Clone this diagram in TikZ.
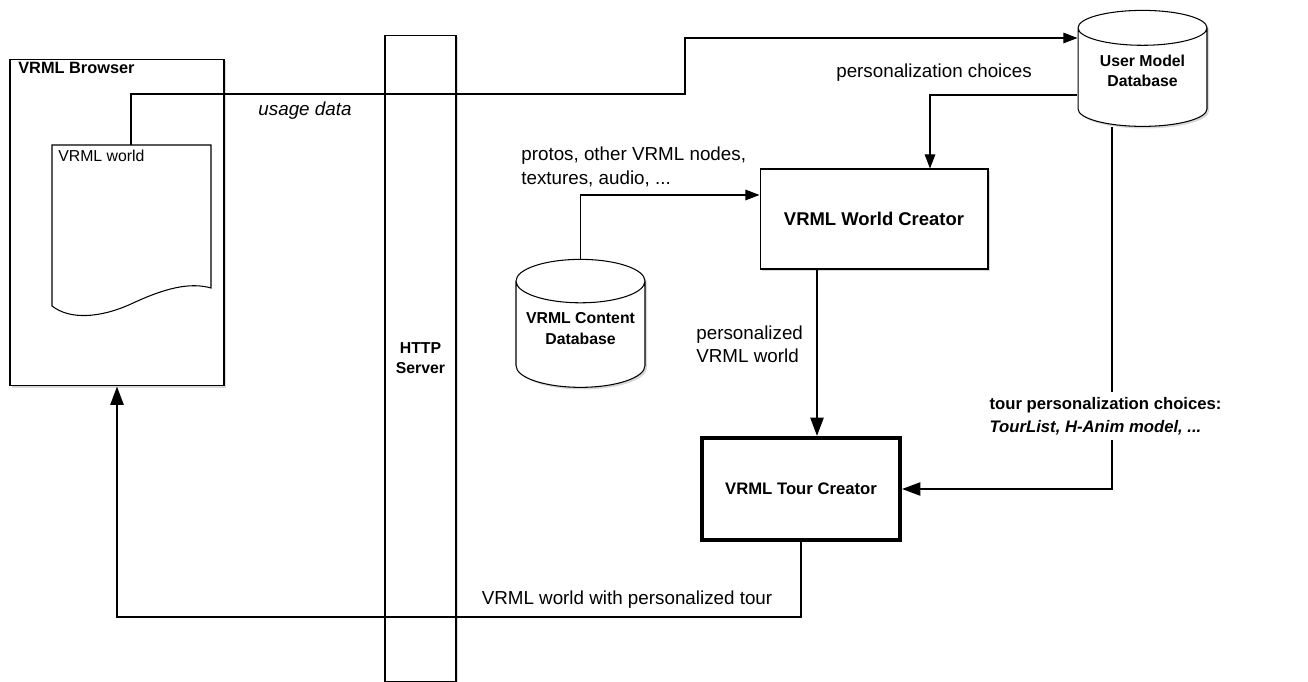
\documentclass[tikz,border=0pt]{standalone}
\usepackage{fontspec}
\setmainfont{Liberation Sans}
\usetikzlibrary{arrows.meta,shapes.geometric,shadows}

\begin{document}
\begin{tikzpicture}[x=0.02cm, y=-0.02cm,
    box/.style={draw=black, fill=white, line width=0.6pt,
      drop shadow={shadow xshift=1.2pt, shadow yshift=-1.2pt, opacity=0.3}},
    dbase/.style={box, cylinder, shape border rotate=90, aspect=0.36, text depth=12pt,
      align=center, font=\fontsize{9}{11.5}\selectfont\bfseries},
    thinarrow/.style={line width=0.6pt, -{Triangle[length=8pt, width=6pt]}},
    thickarrow/.style={line width=1.2pt, -{Triangle[length=10.5pt, width=7.5pt]}},
    lbl/.style={font=\fontsize{10.7}{13.5}\selectfont, align=left}]
        \useasboundingbox (0,0) rectangle (1308,682);
        % Draw the browser with the world document
        \node (browser) [box, minimum width=4.28cm, minimum height=6.54cm] at (117,222.5) {};
        \node (btitle) [anchor=west, inner sep=0, font=\fontsize{9.3}{11}\selectfont\bfseries] at (18,68) {VRML Browser};
        \draw[fill=white, line width=0.6pt] (52,145) -- (211,145) -- (211,288)
            .. controls (190,282) and (165,288) .. (131,304)
            .. controls (100,318) and (70,320) .. (52,306) -- cycle;
        \coordinate (wtop) at (131,145);
        \node (wlabel) [anchor=west, inner sep=0, font=\fontsize{9}{11}\selectfont] at (58,156) {VRML world};
        % Draw the server, the creators and the databases
        \node (http) [box, minimum width=1.42cm, minimum height=12.94cm, align=center,
            font=\fontsize{9}{11.5}\selectfont\bfseries] at (420.5,358.5) {HTTP\\Server};
        \node (umdb) [dbase, minimum width=2.58cm, minimum height=2.32cm] at (1142.5,81) {User Model\\Database};
        \node (cdb) [dbase, minimum width=2.58cm, minimum height=2.56cm] at (580.5,339) {VRML Content\\Database};
        \node (wcreator) [box, minimum width=4.56cm, minimum height=2cm,
            font=\fontsize{10.5}{12}\selectfont\bfseries] at (874,219) {VRML World Creator};
        \node (tcreator) [box, line width=2.3pt, minimum width=3.96cm, minimum height=2.04cm,
            font=\fontsize{9.5}{12}\selectfont\bfseries] at (801,489) {VRML Tour Creator};
        % Draw the connectors
        \coordinate (ua) at (685,38);
        \coordinate (pc) at (930,95);
        \coordinate (ca) at (580,195);
        \coordinate (wt) at (817,0);
        \coordinate (tt) at (1112,0);
        \coordinate (rt) at (500,617);
        \draw[thinarrow] (wtop) |- (685,94) |- (umdb.west |- ua);
        \draw[thinarrow] (umdb.west |- pc) -| (wcreator.north -| pc);
        \draw[thinarrow] (cdb.north) |- (wcreator.west |- ca);
        \draw[thickarrow] (wcreator.south -| wt) -- (tcreator.north -| wt);
        \draw[thickarrow] (umdb.south -| tt) |- (tcreator.east);
        \draw[thickarrow] (tcreator.south) |- (rt) -| (browser.south);
        % Draw the labels
        \node (usage) [lbl, font=\fontsize{10.7}{13.5}\selectfont\itshape] at (305,111) {usage data};
        \node (pchoice) [lbl] at (934,73) {personalization choices};
        \node (protos) [lbl, anchor=west, inner sep=0] at (521,167) {protos, other VRML nodes,\\textures, audio, ...};
        \node (pworld) [lbl, anchor=west, inner sep=0, font=\fontsize{10.7}{13}\selectfont] at (696,344) {personalized\\VRML world};
        \node (tchoice) [lbl, anchor=west, fill=white, inner sep=3pt, font=\fontsize{9.5}{13}\selectfont\bfseries]
            at (984,416) {tour personalization choices:\\\textit{TourList, H-Anim model, ...}};
        \node (ptour) [lbl] at (627,600) {VRML world with personalized tour};
\end{tikzpicture}
\end{document}
